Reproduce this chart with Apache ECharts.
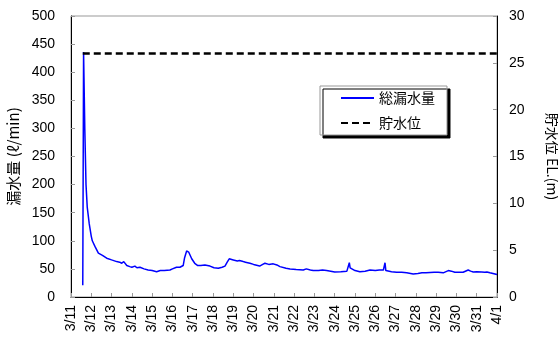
<!DOCTYPE html>
<html>
<head>
<meta charset="utf-8">
<script src="https://cdn.jsdelivr.net/npm/echarts@6/dist/echarts.min.js"></script>
<style>
  html, body { margin: 0; padding: 0; background: #fff; }
  #chart { width: 558px; height: 341px; }
</style>
</head>
<body>
<div id="chart"></div>
<script>
// Date labels for each day tick (day 0 = 3/11)
const dateLabels = ['3/11','3/12','3/13','3/14','3/15','3/16','3/17','3/18','3/19','3/20','3/21',
  '3/22','3/23','3/24','3/25','3/26','3/27','3/28','3/29','3/30','3/31','4/1'];

// Total leakage (ℓ/min): elapsed days from 3/11 and measured flow
const leakDay = [0.58,0.62,0.68,0.74,0.8,0.9,1.0,1.05,1.18,1.35,1.55,1.76,2.0,2.25,2.4,2.5,2.6,2.75,2.9,3.0,
  3.15,3.25,3.4,3.6,3.8,4.0,4.22,4.4,4.6,4.88,5.0,5.2,5.37,5.53,5.6,5.7,5.8,5.9,5.95,6.0,
  6.1,6.25,6.4,6.6,6.85,7.05,7.26,7.45,7.59,7.7,7.8,8.0,8.2,8.3,8.49,8.6,8.82,9.0,9.3,9.45,
  9.56,9.75,9.97,10.15,10.3,10.38,10.6,10.8,11.1,11.45,11.6,11.8,11.94,12.2,12.4,12.6,12.8,13.0,13.3,13.6,
  13.68,13.72,13.76,13.8,14.0,14.24,14.5,14.74,15.0,15.2,15.4,15.46,15.48,15.52,15.56,15.8,16.05,16.3,16.55,16.87,
  17.1,17.3,17.5,17.9,18.1,18.35,18.6,18.75,18.92,19.1,19.33,19.58,19.7,19.83,20.0,20.24,20.4,20.5,20.65,20.9,21.0];
const leakFlow = [21,436,300,200,160,130,108,100,90,78,74,69,66,63,62,60,63,56,54,53,
  55,52,53,50,48,47,45,47,47,48,50,53,53,56,70,82,80,72,68,69,
  60,56,56,57,55,52,51,53,55,62,68,66,64,65,63,62,60,58,55,58,
  60,58,59,57,54,51,51,50,49,48,50,48,47,47,48,47,46,44.5,45,46,
  47,61,52,49,47,45,46,48,47,48,48,49,61,47,45,45,44,44,43,41,
  42,43,43,44,44,43,47,46,44,44,44,48,46,44.5,45,44.5,44,44.5,43,41,40];

// Reservoir water level EL. (m)
const levelDay = [0.58, 21.0];
const levelValue = [26, 26];

const zip = (xs, ys) => xs.map((x, i) => [x, ys[i]]);
const fontFamily = '"Liberation Sans", "Noto Sans CJK JP", sans-serif';
const cjkFont = '"Noto Sans CJK JP", sans-serif';

const chart = echarts.init(document.getElementById('chart'));
chart.setOption({
  animation: false,
  backgroundColor: '#fff',
  textStyle: { fontFamily: fontFamily },
  grid: {
    left: 71, right: 61, top: 16, bottom: 44,
    show: true, borderColor: '#999', borderWidth: 1,
    outerBoundsMode: 'none'
  },
  legend: {
    orient: 'vertical',
    left: 320, top: 86,
    padding: [5, 12, 5, 20],
    itemWidth: 33, itemHeight: 14, itemGap: 11,
    backgroundColor: '#fff',
    borderColor: '#999', borderWidth: 1,
    shadowColor: '#000', shadowOffsetX: 3, shadowOffsetY: 3, shadowBlur: 0,
    itemStyle: { opacity: 0 },
    textStyle: { fontSize: 14, color: '#000', fontFamily: cjkFont },
    data: ['総漏水量', '貯水位']
  },
  xAxis: {
    type: 'value', min: 0, max: 21, interval: 1,
    axisLine: { lineStyle: { color: '#000', width: 1 } },
    axisTick: { inside: true, length: 4, lineStyle: { color: '#999' } },
    splitLine: { show: false },
    axisLabel: {
      rotate: 90, margin: 8, fontSize: 14, color: '#000',
      formatter: v => dateLabels[Math.round(v)] || ''
    }
  },
  yAxis: [
    {
      type: 'value', min: 0, max: 500, interval: 50,
      name: '漏水量 (ℓ/min)', nameLocation: 'middle', nameGap: 43, nameRotate: 90,
      nameTextStyle: { fontSize: 15, color: '#000', fontFamily: cjkFont },
      axisLine: { show: true, lineStyle: { color: '#000', width: 1 } },
      axisTick: { show: true, inside: true, length: 4, lineStyle: { color: '#999' } },
      splitLine: { show: false },
      axisLabel: { margin: 16, fontSize: 14, color: '#000' }
    },
    {
      type: 'value', min: 0, max: 30, interval: 5, position: 'right',
      name: '貯水位 EL.(m)', nameLocation: 'middle', nameGap: 48, nameRotate: -90,
      nameTextStyle: { fontSize: 14, color: '#000', fontFamily: cjkFont },
      axisLine: { show: true, lineStyle: { color: '#000', width: 1 } },
      axisTick: { show: true, inside: true, length: 4, lineStyle: { color: '#999' } },
      splitLine: { show: false },
      axisLabel: { margin: 12, fontSize: 14, color: '#000' }
    }
  ],
  series: [
    {
      name: '総漏水量', type: 'line', yAxisIndex: 0,
      data: zip(leakDay, leakFlow),
      showSymbol: false, symbol: 'none',
      lineStyle: { color: '#0000ff', width: 1.5 },
      itemStyle: { color: '#0000ff' }
    },
    {
      name: '貯水位', type: 'line', yAxisIndex: 1,
      data: zip(levelDay, levelValue),
      showSymbol: false, symbol: 'none',
      lineStyle: { color: '#000', width: 2.5, type: [7, 4] },
      itemStyle: { color: '#000' }
    }
  ]
});
</script>
</body>
</html>
